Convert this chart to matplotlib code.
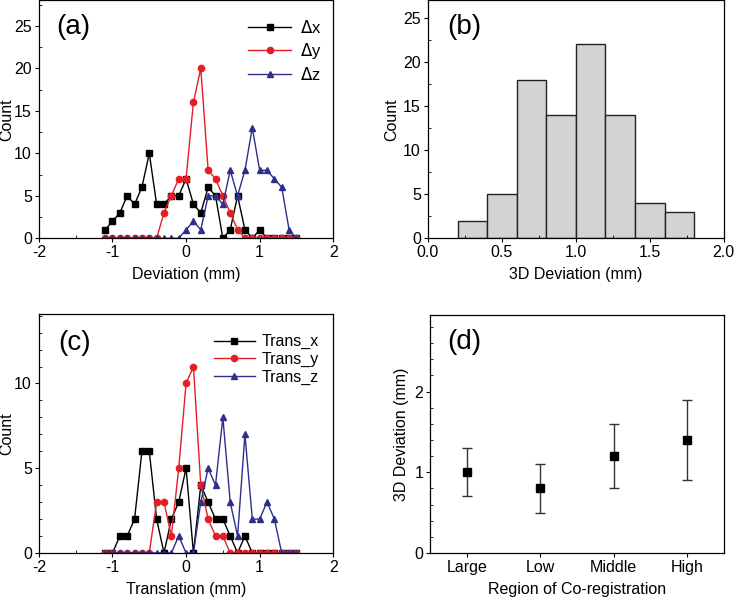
import numpy as np
import matplotlib.pyplot as plt
from matplotlib.ticker import MultipleLocator

plt.rcParams['font.family'] = ['Liberation Sans', 'DejaVu Sans']
plt.rcParams['font.size'] = 11
plt.rcParams['axes.unicode_minus'] = False

# datos panel (a)
dev = np.round(np.arange(-1.1, 1.51, 0.1), 1)
dx = [1, 2, 3, 5, 4, 6, 10, 4, 4, 5, 5, 7, 4, 3, 6, 5, 0, 1, 5, 1, 0, 1, 0, 0, 0, 0, 0]
dy = [0, 0, 0, 0, 0, 0, 0, 0, 3, 5, 7, 7, 16, 20, 8, 7, 5, 3, 1, 0, 0, 0, 0, 0, 0, 0, 0]
dz = [0, 0, 0, 0, 0, 0, 0, 0, 0, 0, 0, 1, 2, 1, 5, 5, 4, 8, 5, 8, 13, 8, 8, 7, 6, 1, 0]

# datos panel (b)
bin_edges = [0.2, 0.4, 0.6, 0.8, 1.0, 1.2, 1.4, 1.6, 1.8]
bin_counts = [2, 5, 18, 14, 22, 14, 4, 3]

# datos panel (c)
trans = np.round(np.arange(-1.1, 1.51, 0.1), 1)
tx = [0, 0, 1, 1, 2, 6, 6, 2, 0, 2, 3, 5, 0, 4, 3, 2, 2, 1, 0, 1, 0, 0, 0, 0, 0, 0, 0]
ty = [0, 0, 0, 0, 0, 0, 0, 3, 3, 1, 5, 10, 11, 4, 2, 1, 1, 0, 0, 0, 0, 0, 0, 0, 0, 0, 0]
tz = [0, 0, 0, 0, 0, 0, 0, 0, 0, 0, 1, 0, 0, 3, 5, 4, 8, 3, 1, 7, 2, 2, 3, 2, 0, 0, 0]

# datos panel (d)
regions = ['Large', 'Low', 'Middle', 'High']
mean3d = [1.0, 0.8, 1.2, 1.4]
err3d = [0.3, 0.3, 0.4, 0.5]

black = 'black'
red = '#E41E26'
blue = '#2E2E8C'

fig = plt.figure(figsize=(7.34, 5.98), dpi=100)
ax_a = fig.add_axes([0.053, 0.6015, 0.401, 0.398])
ax_b = fig.add_axes([0.583, 0.6015, 0.403, 0.398])
ax_c = fig.add_axes([0.053, 0.0753, 0.401, 0.3997])
ax_d = fig.add_axes([0.586, 0.0753, 0.400, 0.3980])

lab_fs = 11.5


def estilo(ax):
    ax.tick_params(which='major', direction='out', length=3, width=0.8,
                   top=False, right=False, labelsize=11.5, pad=2)
    ax.tick_params(which='minor', direction='in', length=2, width=0.6,
                   top=False, right=False)
    for s in ax.spines.values():
        s.set_linewidth(0.9)


# (a)
ax_a.plot(dev, dx, '-s', color=black, ms=4.5, lw=1, label=r'$\Delta$x')
ax_a.plot(dev, dy, '-o', color=red, ms=4.5, lw=1, label=r'$\Delta$y')
ax_a.plot(dev, dz, '-^', color=blue, ms=4.5, lw=1, label=r'$\Delta$z')
ax_a.set_xlim(-2, 2)
ax_a.set_ylim(0, 28)
ax_a.xaxis.set_major_locator(MultipleLocator(1))
ax_a.xaxis.set_minor_locator(MultipleLocator(0.5))
ax_a.yaxis.set_major_locator(MultipleLocator(5))
ax_a.yaxis.set_minor_locator(MultipleLocator(2.5))
ax_a.set_xlabel('Deviation (mm)', fontsize=lab_fs, labelpad=5)
ax_a.set_ylabel('Count', fontsize=lab_fs)
ax_a.yaxis.set_label_coords(-0.085, 0.5)
ax_a.text(0.06, 0.887, '(a)', transform=ax_a.transAxes, fontsize=20, va='center')
ax_a.legend(loc='upper right', frameon=False, handlelength=2.6, handletextpad=0.5,
            fontsize=12, bbox_to_anchor=(1.01, 0.985), labelspacing=0.3)
estilo(ax_a)

# (b)
ax_b.hist(bin_edges[:-1], bins=bin_edges, weights=bin_counts,
          color='#D3D3D3', edgecolor='#222222', linewidth=1.0)
ax_b.set_xlim(0, 2)
ax_b.set_ylim(0, 27)
ax_b.xaxis.set_major_locator(MultipleLocator(0.5))
ax_b.xaxis.set_minor_locator(MultipleLocator(0.25))
ax_b.yaxis.set_major_locator(MultipleLocator(5))
ax_b.yaxis.set_minor_locator(MultipleLocator(2.5))
ax_b.xaxis.set_major_formatter(plt.FormatStrFormatter('%.1f'))
ax_b.set_xlabel('3D Deviation (mm)', fontsize=lab_fs, labelpad=5)
ax_b.set_ylabel('Count', fontsize=lab_fs, labelpad=3)
ax_b.text(0.065, 0.887, '(b)', transform=ax_b.transAxes, fontsize=20, va='center')
estilo(ax_b)

# (c)
ax_c.plot(trans, tx, '-s', color=black, ms=4.5, lw=1, label='Trans_x')
ax_c.plot(trans, ty, '-o', color=red, ms=4.5, lw=1, label='Trans_y')
ax_c.plot(trans, tz, '-^', color=blue, ms=4.5, lw=1, label='Trans_z')
ax_c.set_xlim(-2, 2)
ax_c.set_ylim(0, 14.1)
ax_c.xaxis.set_major_locator(MultipleLocator(1))
ax_c.xaxis.set_minor_locator(MultipleLocator(0.5))
ax_c.yaxis.set_major_locator(MultipleLocator(5))
ax_c.yaxis.set_minor_locator(MultipleLocator(1))
ax_c.set_xlabel('Translation (mm)', fontsize=lab_fs, labelpad=5)
ax_c.set_ylabel('Count', fontsize=lab_fs)
ax_c.yaxis.set_label_coords(-0.085, 0.5)
ax_c.text(0.065, 0.879, '(c)', transform=ax_c.transAxes, fontsize=20, va='center')
ax_c.legend(loc='upper right', frameon=False, handlelength=2.6, handletextpad=0.4,
            fontsize=11.5, bbox_to_anchor=(1.0, 0.975), labelspacing=0.15)
estilo(ax_c)

# (d)
pos = np.arange(1, len(regions) + 1)
ax_d.errorbar(pos, mean3d, yerr=err3d, fmt='s', color='black', ecolor='#333333',
              ms=6, elinewidth=1, capsize=3.5, capthick=1)
ax_d.set_xlim(0.5, 4.5)
ax_d.set_ylim(0, 2.95)
ax_d.set_xticks(pos)
ax_d.set_xticklabels(regions)
ax_d.yaxis.set_major_locator(MultipleLocator(1))
ax_d.yaxis.set_minor_locator(MultipleLocator(0.2))
ax_d.set_xlabel('Region of Co-registration', fontsize=lab_fs, labelpad=5)
ax_d.set_ylabel('3D Deviation (mm)', fontsize=lab_fs)
ax_d.text(0.058, 0.887, '(d)', transform=ax_d.transAxes, fontsize=20, va='center')
estilo(ax_d)

fig.savefig('out.png', dpi=100)
